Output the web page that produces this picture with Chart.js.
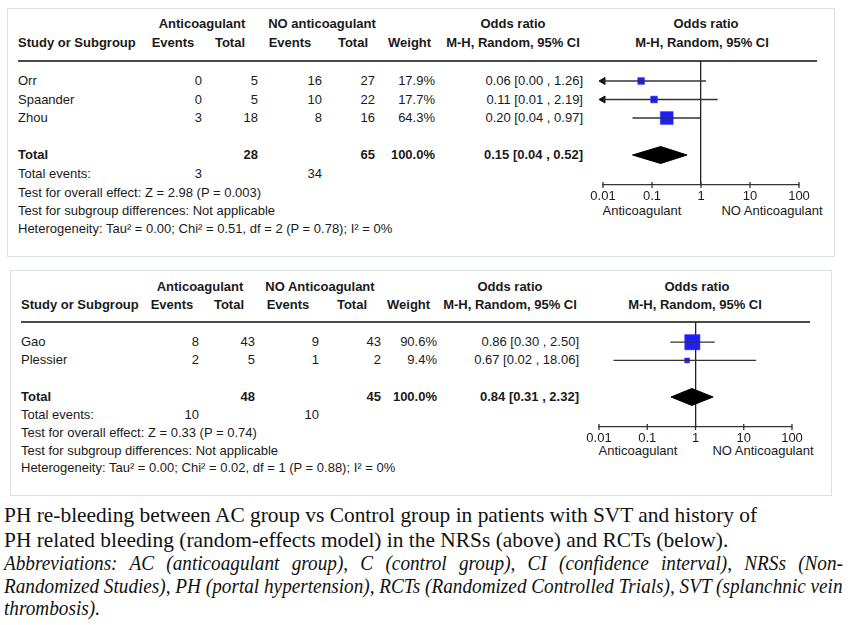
<!DOCTYPE html>
<html>
<head>
<meta charset="utf-8">
<title>PH re-bleeding forest plots</title>
<script src="https://cdn.jsdelivr.net/npm/chart.js@4.4.1/dist/chart.umd.min.js"></script>
<style>
  body { margin: 0; background: #fff; }
  #wrap { position: relative; width: 850px; height: 625px; overflow: hidden; font-family: "Liberation Sans", Arial, sans-serif; color: #1a1a1a; }
  .box { position: absolute; border: 1.5px solid #dde0e0; box-sizing: border-box; }
  .t { position: absolute; font-size: 13px; line-height: 16px; white-space: nowrap; }
  .b { font-weight: bold; }
  .rule { position: absolute; height: 2px; background: #4a4a4a; }
  canvas { position: absolute; }
  .cap { position: absolute; left: 4px; font-family: "Liberation Serif", "Times New Roman", serif; color: #111; transform-origin: 0 50%; }
</style>
</head>
<body>
<div id="wrap"></div>
<script>
// ---- Datos: NRSs (arriba) ----
const nrsStudies = ['Orr', 'Spaander', 'Zhou'];
const nrsAcEvents = [0, 0, 3];
const nrsAcTotal = [5, 5, 18];
const nrsNoEvents = [16, 10, 8];
const nrsNoTotal = [27, 22, 16];
const nrsWeight = [17.9, 17.7, 64.3];
const nrsOR = [0.06, 0.11, 0.20];
const nrsLow = [0.00, 0.01, 0.04];
const nrsHigh = [1.26, 2.19, 0.97];
const nrsPooled = [0.15, 0.04, 0.52];      // estimación, IC inferior, IC superior
const nrsTotals = [28, 65];
const nrsTotalEvents = [3, 34];
const nrsStats = [
  'Test for overall effect: Z = 2.98 (P = 0.003)',
  'Test for subgroup differences: Not applicable',
  'Heterogeneity: Tau² = 0.00; Chi² = 0.51, df = 2 (P = 0.78); I² = 0%'
];

// ---- Datos: RCTs (abajo) ----
const rctStudies = ['Gao', 'Plessier'];
const rctAcEvents = [8, 2];
const rctAcTotal = [43, 5];
const rctNoEvents = [9, 1];
const rctNoTotal = [43, 2];
const rctWeight = [90.6, 9.4];
const rctOR = [0.86, 0.67];
const rctLow = [0.30, 0.02];
const rctHigh = [2.50, 18.06];
const rctPooled = [0.84, 0.31, 2.32];
const rctTotals = [48, 45];
const rctTotalEvents = [10, 10];
const rctStats = [
  'Test for overall effect: Z = 0.33 (P = 0.74)',
  'Test for subgroup differences: Not applicable',
  'Heterogeneity: Tau² = 0.00; Chi² = 0.02, df = 1 (P = 0.88); I² = 0%'
];

// Eje x compartido
const tickValues = [0.01, 0.1, 1, 10, 100];
const tickLabels = ['0.01', '0.1', '1', '10', '100'];

// Posiciones de cada panel (pixeles)
const layoutTop = {
  box: [7, 8, 828, 249], head1: 24, head2: 43, rule: 61, ruleX: [18, 817],
  row0: 81, step: 18.5, totalIdx: 4, statsY: [174, 193, 211, 229], left: 18,
  cols: { acEv: 202, acTot: 258, noEv: 322, noTot: 375, wt: 435, or: 583 },
  hdr: { ac: 202, no: 322, or: 513, plotOr: 706, ev1: 173, tot1: 230, ev2: 290, tot2: 353, wt: 388, mh: 513, mhPlot: 702 },
  x0: 603, x1: 799, yAxis: 185, axisLabY: 211, labL: 642, labR: 772
};
const layoutBottom = {
  box: [10, 270, 822, 226], head1: 287, head2: 305, rule: 322, ruleX: [21, 810],
  row0: 342, step: 18.3, totalIdx: 3, statsY: [415, 433, 451, 468], left: 21,
  cols: { acEv: 199, acTot: 255, noEv: 319, noTot: 381, wt: 437, or: 579 },
  hdr: { ac: 200, no: 320, or: 510, plotOr: 697, ev1: 172, tot1: 229, ev2: 288, tot2: 352, wt: 387, mh: 510, mhPlot: 695 },
  x0: 599, x1: 792, yAxis: 427, axisLabY: 451, labL: 638, labR: 763
};

const wrap = document.getElementById('wrap');
Chart.defaults.font.family = '"Liberation Sans", Arial, sans-serif';

function put(text, x, y, align, bold) {
  const d = document.createElement('div');
  d.className = 't' + (bold ? ' b' : '');
  d.textContent = text;
  if (align === 'left') d.style.left = x + 'px';
  else if (align === 'right') d.style.right = (850 - x) + 'px';
  else { d.style.left = (x - 150) + 'px'; d.style.width = '300px'; d.style.textAlign = 'center'; }
  d.style.top = (y - 8) + 'px';
  wrap.appendChild(d);
}

function ciText(est, lo, hi) {
  return `${est.toFixed(2)} [${lo.toFixed(2)} , ${hi.toFixed(2)}]`;
}

// Marcas del eje que cruzan la línea (arriba y abajo)
const crossTicks = {
  id: 'crossTicks',
  afterDraw(chart) {
    const x = chart.scales.x;
    const ctx = chart.ctx;
    const y = chart.chartArea.bottom;
    ctx.save();
    ctx.strokeStyle = '#333';
    ctx.lineWidth = 1.3;
    x.ticks.forEach(t => {
      const px = x.getPixelForValue(t.value);
      ctx.beginPath();
      ctx.moveTo(px, y - 3);
      ctx.lineTo(px, y + 3);
      ctx.stroke();
    });
    ctx.restore();
  }
};

function buildPanel(L, id, noLabel, d) {
  const box = document.createElement('div');
  box.className = 'box';
  box.style.left = L.box[0] + 'px'; box.style.top = L.box[1] + 'px';
  box.style.width = L.box[2] + 'px'; box.style.height = L.box[3] + 'px';
  wrap.appendChild(box);

  const rule = document.createElement('div');
  rule.className = 'rule';
  rule.style.left = L.ruleX[0] + 'px'; rule.style.width = (L.ruleX[1] - L.ruleX[0]) + 'px';
  rule.style.top = (L.rule - 1) + 'px';
  wrap.appendChild(rule);

  // Cabeceras
  const h = L.hdr;
  put('Anticoagulant', h.ac, L.head1, 'center', true);
  put(noLabel, h.no, L.head1, 'center', true);
  put('Odds ratio', h.or, L.head1, 'center', true);
  put('Odds ratio', h.plotOr, L.head1, 'center', true);
  put('Study or Subgroup', L.left, L.head2, 'left', true);
  put('Events', h.ev1, L.head2, 'center', true);
  put('Total', h.tot1, L.head2, 'center', true);
  put('Events', h.ev2, L.head2, 'center', true);
  put('Total', h.tot2, L.head2, 'center', true);
  put('Weight', h.wt, L.head2, 'left', true);
  put('M-H, Random, 95% CI', h.mh, L.head2, 'center', true);
  put('M-H, Random, 95% CI', h.mhPlot, L.head2, 'center', true);

  // Filas de estudios
  const c = L.cols;
  d.studies.forEach((s, i) => {
    const y = L.row0 + i * L.step;
    put(s, L.left, y, 'left');
    put(String(d.acEv[i]), c.acEv, y, 'right');
    put(String(d.acTot[i]), c.acTot, y, 'right');
    put(String(d.noEv[i]), c.noEv, y, 'right');
    put(String(d.noTot[i]), c.noTot, y, 'right');
    put(d.weight[i].toFixed(1) + '%', c.wt, y, 'right');
    put(ciText(d.or[i], d.low[i], d.high[i]), c.or, y, 'right');
  });

  // Total
  const ty = L.row0 + L.totalIdx * L.step;
  put('Total', L.left, ty, 'left', true);
  put(String(d.totals[0]), c.acTot, ty, 'right', true);
  put(String(d.totals[1]), c.noTot, ty, 'right', true);
  put('100.0%', c.wt, ty, 'right', true);
  put(ciText(d.pooled[0], d.pooled[1], d.pooled[2]), c.or, ty, 'right', true);
  put('Total events:', L.left, L.statsY[0], 'left');
  put(String(d.totalEvents[0]), c.acEv, L.statsY[0], 'right');
  put(String(d.totalEvents[1]), c.noEv, L.statsY[0], 'right');
  d.stats.forEach((s, i) => put(s, L.left, L.statsY[i + 1], 'left'));

  put('Anticoagulant', L.labL, L.axisLabY, 'center');
  put('NO Anticoagulant', L.labR, L.axisLabY, 'center');

  // Lienzo del forest plot
  const canvasLeft = 560, canvasRight = 835;
  const canvasTop = L.rule - 11;
  const canvasH = (L.yAxis - canvasTop) + 30 + 5;
  const cv = document.createElement('canvas');
  cv.id = id;
  cv.width = canvasRight - canvasLeft; cv.height = canvasH;
  cv.style.left = canvasLeft + 'px'; cv.style.top = canvasTop + 'px';
  cv.style.width = cv.width + 'px'; cv.style.height = canvasH + 'px';
  wrap.appendChild(cv);

  const yMin = (L.rule - L.row0) / L.step;
  const yMax = (L.yAxis - L.row0) / L.step;
  const minX = tickValues[0];

  const datasets = [];
  // Intervalos de confianza
  d.studies.forEach((s, i) => {
    datasets.push({
      type: 'line', label: s + ' CI',
      data: [{ x: Math.max(d.low[i], minX), y: i }, { x: d.high[i], y: i }],
      borderColor: '#333', borderWidth: 1.3, pointRadius: 0, clip: false
    });
  });
  // Flechas para IC fuera del eje
  const arrows = [];
  d.studies.forEach((s, i) => { if (d.low[i] <= minX) arrows.push({ x: minX, y: i }); });
  if (arrows.length) {
    datasets.push({
      type: 'scatter', label: 'arrows', data: arrows,
      pointStyle: 'triangle', rotation: 270, pointRadius: 4,
      backgroundColor: '#111', borderColor: '#111', borderWidth: 1, clip: false
    });
  }
  // Cuadrados (tamaño según peso)
  datasets.push({
    type: 'scatter', label: 'OR',
    data: d.studies.map((s, i) => ({ x: d.or[i], y: i })),
    pointStyle: 'rect',
    pointRadius: d.weight.map(w => 1.6 * Math.sqrt(w) / Math.SQRT2),
    backgroundColor: '#1e1eff', borderColor: '#2a2aff', borderWidth: 0.5, clip: false
  });
  // Diamante del efecto combinado
  const hh = 8.5 / L.step;
  datasets.push({
    type: 'line', label: 'pooled',
    data: [
      { x: d.pooled[1], y: L.totalIdx },
      { x: d.pooled[0], y: L.totalIdx - hh },
      { x: d.pooled[2], y: L.totalIdx },
      { x: d.pooled[0], y: L.totalIdx + hh },
      { x: d.pooled[1], y: L.totalIdx }
    ],
    borderColor: '#000', backgroundColor: '#000', borderWidth: 1,
    pointRadius: 0, fill: 'shape', tension: 0, clip: false
  });

  new Chart(cv.getContext('2d'), {
    type: 'scatter',
    data: { datasets },
    plugins: [crossTicks],
    options: {
      responsive: false,
      animation: false,
      layout: { padding: { left: L.x0 - canvasLeft, right: canvasRight - L.x1, top: 11, bottom: 5 } },
      plugins: { legend: { display: false }, tooltip: { enabled: false } },
      scales: {
        x: {
          type: 'logarithmic', min: tickValues[0], max: tickValues[tickValues.length - 1],
          position: 'bottom',
          afterBuildTicks: (scale) => { scale.ticks = tickValues.map(v => ({ value: v })); },
          afterFit: (scale) => { scale.height = 30; },
          ticks: {
            autoSkip: false, maxRotation: 0, padding: 0, color: '#1a1a1a',
            font: { size: 13 },
            callback: (v, i) => tickLabels[i]
          },
          grid: {
            drawOnChartArea: true, drawTicks: true, tickLength: 4,
            color: (ctx) => (ctx.tick && ctx.tick.value === 1 ? '#222' : 'rgba(0,0,0,0)'),
            tickColor: 'rgba(0,0,0,0)', lineWidth: 1.3, tickWidth: 1.3
          },
          border: { display: true, color: '#333', width: 1.3 }
        },
        y: { type: 'linear', reverse: true, min: yMin, max: yMax, display: false }
      }
    }
  });
}

buildPanel(layoutTop, 'forestNRS', 'NO anticoagulant', {
  studies: nrsStudies, acEv: nrsAcEvents, acTot: nrsAcTotal, noEv: nrsNoEvents, noTot: nrsNoTotal,
  weight: nrsWeight, or: nrsOR, low: nrsLow, high: nrsHigh, pooled: nrsPooled,
  totals: nrsTotals, totalEvents: nrsTotalEvents, stats: nrsStats
});
buildPanel(layoutBottom, 'forestRCT', 'NO Anticoagulant', {
  studies: rctStudies, acEv: rctAcEvents, acTot: rctAcTotal, noEv: rctNoEvents, noTot: rctNoTotal,
  weight: rctWeight, or: rctOR, low: rctLow, high: rctHigh, pooled: rctPooled,
  totals: rctTotals, totalEvents: rctTotalEvents, stats: rctStats
});

// ---- Pie de figura ----
const captionLines = [
  'PH re-bleeding between AC group vs Control group in patients with SVT and history of',
  'PH related bleeding (random-effects model) in the NRSs (above) and RCTs (below).'
];
const abbrevLines = [
  'Abbreviations: AC (anticoagulant group), C (control group), CI (confidence interval), NRSs (Non-',
  'Randomized Studies), PH (portal hypertension), RCTs (Randomized Controlled Trials), SVT (splanchnic vein',
  'thrombosis).'
];

function capLine(text, top, size, italic) {
  const d = document.createElement('div');
  d.className = 'cap';
  d.textContent = text;
  d.style.top = top + 'px';
  d.style.fontSize = size + 'px';
  d.style.lineHeight = '24px';
  d.style.whiteSpace = 'nowrap';
  if (italic) d.style.fontStyle = 'italic';
  wrap.appendChild(d);
  return d;
}

// Texto normal, comprimido para ajustar al ancho original
const c1 = capLine(captionLines[0], 503, 21, false);
const c2 = capLine(captionLines[1], 528, 21, false);
const s1 = 753 / c1.scrollWidth;
[c1, c2].forEach(el => { el.style.transform = `scaleX(${s1})`; });

// Abreviaturas en cursiva, justificadas
const a2 = capLine(abbrevLines[1], 574, 20, true);
const s2 = 839 / a2.scrollWidth;
const a1 = capLine(abbrevLines[0], 551, 20, true);
a1.style.whiteSpace = 'normal';
a1.style.width = (839 / s2) + 'px';
a1.style.textAlign = 'justify';
a1.style.textAlignLast = 'justify';
const a3 = capLine(abbrevLines[2], 596, 20, true);
[a1, a2, a3].forEach(el => { el.style.transform = `scaleX(${s2})`; });
</script>
</body>
</html>
